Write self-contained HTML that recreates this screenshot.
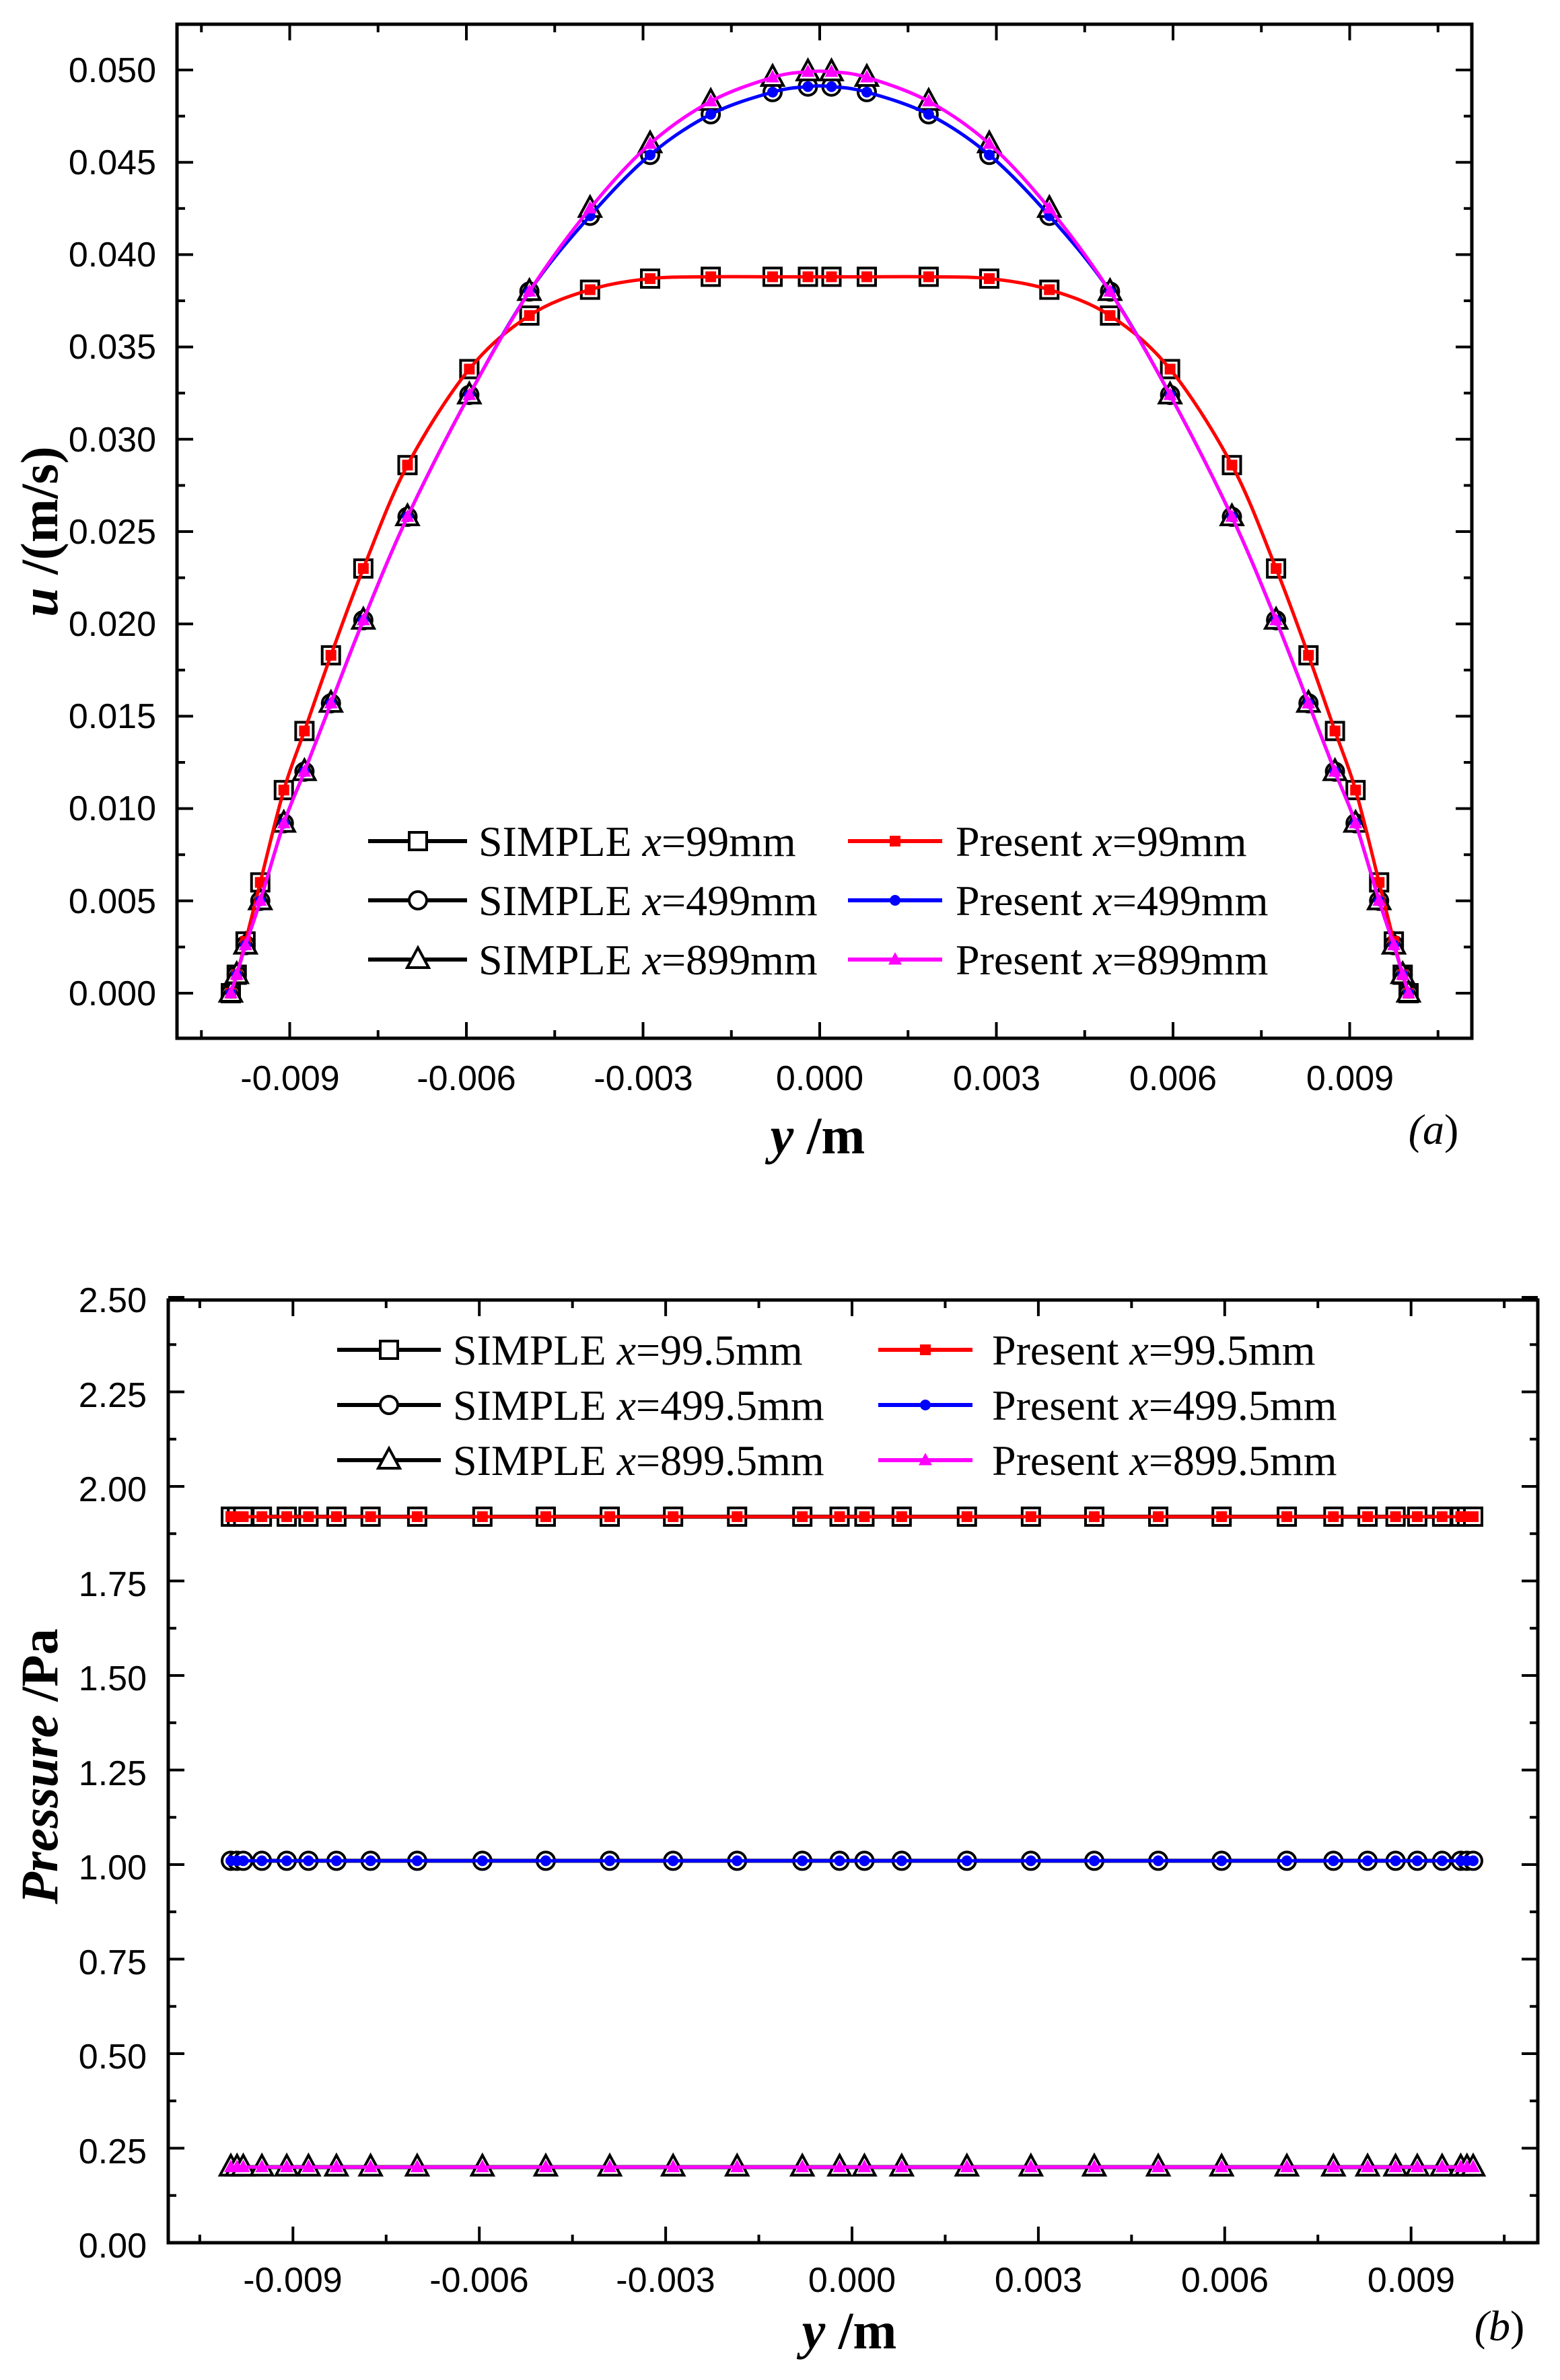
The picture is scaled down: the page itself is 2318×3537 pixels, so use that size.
<!DOCTYPE html>
<html><head><meta charset="utf-8"><style>
html,body{margin:0;padding:0;background:#fff;}
svg{display:block;}
.tk{font-family:"Liberation Sans",Arial,sans-serif;font-size:52px;fill:#000;}
.lg{font-family:"Liberation Serif","Times New Roman",serif;font-size:64px;fill:#000;}
.ax{font-family:"Liberation Serif","Times New Roman",serif;font-size:78px;font-weight:bold;fill:#000;}
</style></head><body>
<svg id="s" width="2318" height="3537" viewBox="0 0 2318 3537" xmlns="http://www.w3.org/2000/svg">
<rect width="2318" height="3537" fill="#fff"/>
<g id="g"></g>
<g class="tk" text-anchor="end">
<text x="232" y="122">0.050</text><text x="232" y="259">0.045</text><text x="232" y="396">0.040</text>
<text x="232" y="533">0.035</text><text x="232" y="671">0.030</text><text x="232" y="808">0.025</text>
<text x="232" y="945">0.020</text><text x="232" y="1082">0.015</text><text x="232" y="1219">0.010</text>
<text x="232" y="1357">0.005</text><text x="232" y="1494">0.000</text>
</g>
<g class="tk" text-anchor="middle">
<text x="431" y="1620">-0.009</text><text x="693" y="1620">-0.006</text><text x="956" y="1620">-0.003</text>
<text x="1218" y="1620">0.000</text><text x="1481" y="1620">0.003</text><text x="1743" y="1620">0.006</text><text x="2006" y="1620">0.009</text>
</g>
<text class="ax" x="1215" y="1714" text-anchor="middle"><tspan font-style="italic">y</tspan> /m</text>
<text class="ax" transform="translate(85,790) rotate(-90)" text-anchor="middle"><tspan font-style="italic">u</tspan> /(m/s)</text>
<text class="lg" x="2130" y="1700" text-anchor="middle" font-size="72"><tspan font-style="italic">(a</tspan>)</text>
<g class="lg">
<text x="711" y="1272">SIMPLE <tspan font-style="italic">x</tspan>=99mm</text>
<text x="711" y="1360">SIMPLE <tspan font-style="italic">x</tspan>=499mm</text>
<text x="711" y="1448">SIMPLE <tspan font-style="italic">x</tspan>=899mm</text>
<text x="1420" y="1272">Present <tspan font-style="italic">x</tspan>=99mm</text>
<text x="1420" y="1360">Present <tspan font-style="italic">x</tspan>=499mm</text>
<text x="1420" y="1448">Present <tspan font-style="italic">x</tspan>=899mm</text>
</g>
<g class="tk" text-anchor="end">
<text x="218" y="1950">2.50</text><text x="218" y="2091">2.25</text><text x="218" y="2231">2.00</text>
<text x="218" y="2372">1.75</text><text x="218" y="2512">1.50</text><text x="218" y="2653">1.25</text>
<text x="218" y="2793">1.00</text><text x="218" y="2934">0.75</text><text x="218" y="3074">0.50</text>
<text x="218" y="3215">0.25</text><text x="218" y="3355">0.00</text>
</g>
<g class="tk" text-anchor="middle">
<text x="435" y="3406">-0.009</text><text x="712" y="3406">-0.006</text><text x="989" y="3406">-0.003</text>
<text x="1266" y="3406">0.000</text><text x="1543" y="3406">0.003</text><text x="1820" y="3406">0.006</text><text x="2097" y="3406">0.009</text>
</g>
<text class="ax" x="1262" y="3490" text-anchor="middle"><tspan font-style="italic">y</tspan> /m</text>
<text class="ax" transform="translate(85,2625) rotate(-90)" text-anchor="middle"><tspan font-style="italic">Pressure</tspan> /Pa</text>
<text class="lg" x="2228" y="3478" text-anchor="middle" font-size="72"><tspan font-style="italic">(b</tspan>)</text>
<g class="lg">
<text x="673" y="2028">SIMPLE <tspan font-style="italic">x</tspan>=99.5mm</text>
<text x="673" y="2110">SIMPLE <tspan font-style="italic">x</tspan>=499.5mm</text>
<text x="673" y="2192">SIMPLE <tspan font-style="italic">x</tspan>=899.5mm</text>
<text x="1474" y="2028">Present <tspan font-style="italic">x</tspan>=99.5mm</text>
<text x="1474" y="2110">Present <tspan font-style="italic">x</tspan>=499.5mm</text>
<text x="1474" y="2192">Present <tspan font-style="italic">x</tspan>=899.5mm</text>
</g>
</svg>
<script>
(function(){
var g=document.getElementById("g"),out="";
function ln(x1,y1,x2,y2,c,w){out+='<line x1="'+x1+'" y1="'+y1+'" x2="'+x2+'" y2="'+y2+'" stroke="'+c+'" stroke-width="'+w+'"/>';}
function mk(type,x,y,filled,col){
 if(type=="s"){var r=filled?8:13;out+='<rect x="'+(x-r)+'" y="'+(y-r)+'" width="'+2*r+'" height="'+2*r+'" fill="'+(filled?col:'#fff')+'" stroke="'+(filled?'none':'#000')+'" stroke-width="4"/>';}
 else if(type=="c"){var r=filled?8:13;out+='<circle cx="'+x+'" cy="'+y+'" r="'+r+'" fill="'+(filled?col:'#fff')+'" stroke="'+(filled?'none':'#000')+'" stroke-width="4"/>';}
 else {var r=filled?10:16;out+='<polygon points="'+x+','+(y-r*1.1)+' '+(x-r)+','+(y+r*0.75)+' '+(x+r)+','+(y+r*0.75)+'" fill="'+(filled?col:'#fff')+'" stroke="'+(filled?'none':'#000')+'" stroke-width="4"/>';}
}
function curve(pts,c,w){
 var d="M"+pts[0][0]+","+pts[0][1];
 for(var i=0;i<pts.length-1;i++){var p0=pts[Math.max(0,i-1)],p1=pts[i],p2=pts[i+1],p3=pts[Math.min(pts.length-1,i+2)];
  d+=" C"+(p1[0]+(p2[0]-p0[0])/6)+","+(p1[1]+(p2[1]-p0[1])/6)+" "+(p2[0]-(p3[0]-p1[0])/6)+","+(p2[1]-(p3[1]-p1[1])/6)+" "+p2[0]+","+p2[1];}
 out+='<path d="'+d+'" fill="none" stroke="'+c+'" stroke-width="'+w+'"/>';
}
function frame(L,T,R,B,X,Y,xmaj,xmin,ymaj,ymin){
 out+='<rect x="'+L+'" y="'+T+'" width="'+(R-L)+'" height="'+(B-T)+'" fill="none" stroke="#000" stroke-width="5"/>';
 xmaj.forEach(function(v){var x=X(v);ln(x,B,x,B-24,"#000",4);ln(x,T,x,T+24,"#000",4);});
 xmin.forEach(function(v){var x=X(v);ln(x,B,x,B-12,"#000",4);ln(x,T,x,T+12,"#000",4);});
 ymaj.forEach(function(v){var y=Y(v);ln(L,y,L+24,y,"#000",4);ln(R,y,R-24,y,"#000",4);});
 ymin.forEach(function(v){var y=Y(v);ln(L,y,L+12,y,"#000",4);ln(R,y,R-12,y,"#000",4);});
}
var xmaj=[-9,-6,-3,0,3,6,9],xmin=[-10.5,-7.5,-4.5,-1.5,1.5,4.5,7.5,10.5];
var XA=function(v){return 1218+87.5*v},YA=function(u){return 1476-27440*u};
var ym=[],yn=[];for(var i=0;i<=10;i++){ym.push(i*0.005);if(i<10)yn.push(i*0.005+0.0025);}
frame(263,36,2187,1543,XA,YA,xmaj,xmin,ym,yn);
var xs=[-10,-9.9,-9.75,-9.5,-9.1,-8.75,-8.3,-7.75,-7.0,-5.95,-4.93,-3.9,-2.88,-1.85,-0.8,-0.2];
var red=[0,0.001,0.0028,0.006,0.011,0.0142,0.0183,0.023,0.0286,0.0338,0.0367,0.0381,0.0387,0.0388,0.0388,0.0388];
var blue=[0,0.001,0.0026,0.005,0.0092,0.012,0.0157,0.0202,0.0258,0.0324,0.038,0.0421,0.0454,0.0476,0.0488,0.0491];
var mag=[0,0.001,0.0026,0.005,0.0092,0.012,0.0157,0.0202,0.0258,0.0324,0.038,0.0425,0.046,0.0483,0.0496,0.0499];
function full(a){var r=a.slice();for(var i=a.length-1;i>=0;i--)r.push(a[i]);return r;}
var fx=xs.slice();for(var i=xs.length-1;i>=0;i--)fx.push(-xs[i]);
var sets=[[full(red),"s","#ff0000"],[full(blue),"c","#0000ff"],[full(mag),"t","#ff00ff"]];
sets.forEach(function(s){s[0].forEach(function(u,i){mk(s[1],XA(fx[i]),YA(u),false);});});
sets.forEach(function(s){var p=s[0].map(function(u,i){return [XA(fx[i]),YA(u)]});curve(p,s[2],5);
 s[0].forEach(function(u,i){mk(s[1],XA(fx[i]),YA(u),true,s[2]);});});
var ly=[1250,1338,1426],sh=["s","c","t"],cl=["#ff0000","#0000ff","#ff00ff"];
for(var k=0;k<3;k++){ln(547,ly[k],694,ly[k],"#000",6);mk(sh[k],621,ly[k],false);
 ln(1260,ly[k],1400,ly[k],cl[k],6);mk(sh[k],1330,ly[k],true,cl[k]);}
var XB=function(v){return 1266+92.3*v},YB=function(p){return 3333-562*p};
ym=[];yn=[];for(var i=0;i<=10;i++){ym.push(i*0.25);if(i<10)yn.push(i*0.25+0.125);}
frame(250,1932,2285,3333,XB,YB,xmaj,xmin,ym,yn);
var xb=[-10,-9.9,-9.8,-9.5,-9.1,-8.75,-8.3,-7.75,-7.0,-5.95,-4.93,-3.9,-2.88,-1.85,-0.8,-0.2];
var fb=xb.slice();for(var i=xb.length-1;i>=0;i--)fb.push(-xb[i]);
var lv=[[1.92,"s","#ff0000"],[1.01,"c","#0000ff"],[0.20,"t","#ff00ff"]];
lv.forEach(function(l){var y=YB(l[0]);ln(XB(-10),y,XB(10),y,"#000",6);
 fb.forEach(function(v){mk(l[1],XB(v),y,false);});
 ln(XB(-10),y,XB(10),y,l[2],5);
 fb.forEach(function(v){mk(l[1],XB(v),y,true,l[2]);});});
ly=[2006,2088,2170];
for(var k=0;k<3;k++){ln(501,ly[k],655,ly[k],"#000",6);mk(sh[k],578,ly[k],false);
 ln(1305,ly[k],1445,ly[k],cl[k],6);mk(sh[k],1375,ly[k],true,cl[k]);}
g.innerHTML=out;
})();
</script>
</body></html>
